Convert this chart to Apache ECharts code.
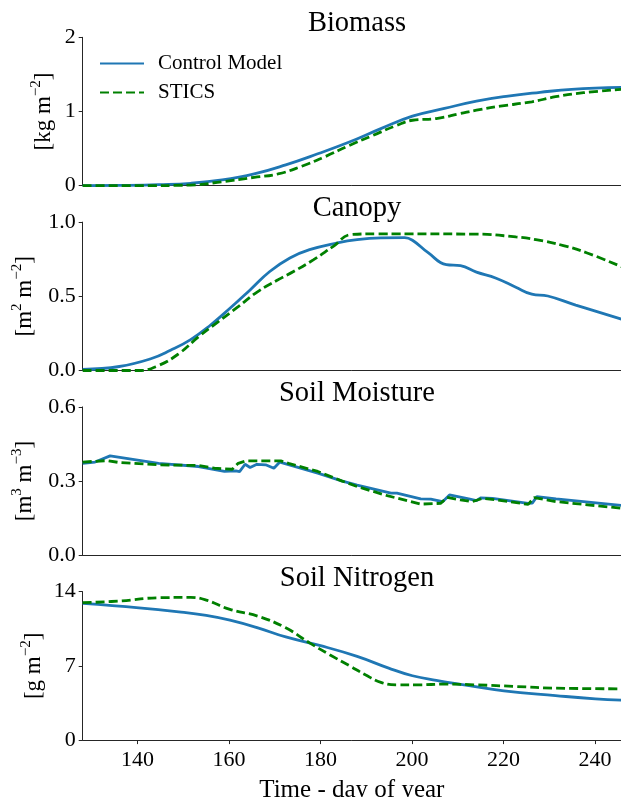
<!DOCTYPE html>
<html>
<head>
<meta charset="utf-8">
<script src="https://cdn.jsdelivr.net/npm/echarts@6/dist/echarts.min.js"></script>
<style>
  html, body { margin: 0; padding: 0; background: #fff; }
  #chart { width: 621px; height: 797px; }
</style>
</head>
<body>
<div id="chart"></div>
<script>
// day-of-year ticks shared by all panels
const xTicks = [140, 160, 180, 200, 220, 240];

// Biomass [kg m-2]
const biomassControl = [
  [128, 0], [138, 0.005], [144.6, 0.014], [151.6, 0.032], [158.5, 0.077], [165.5, 0.158],
  [172.4, 0.281], [179.4, 0.43], [186.3, 0.588], [193.2, 0.769], [200.1, 0.937],
  [207.1, 1.041], [214.1, 1.14], [221, 1.208], [228, 1.258], [234.9, 1.299], [246, 1.326]
];
const biomassStics = [
  [128, 0], [140, 0], [151.6, 0.009], [158.5, 0.054], [165.5, 0.113], [170.7, 0.158],
  [175.9, 0.262], [181.1, 0.394], [186.3, 0.543], [191.5, 0.679], [196.7, 0.814],
  [200.1, 0.882], [205.3, 0.905], [210.6, 0.973], [214.1, 1.018], [219.3, 1.072],
  [226.2, 1.131], [231.4, 1.199], [237.5, 1.253], [246, 1.299]
];

// Canopy [m2 m-2]
const canopyControl = [
  [128, 0.007], [136, 0.027], [142.9, 0.079], [147.2, 0.136], [151.6, 0.208], [155.9, 0.305],
  [160.2, 0.419], [164.6, 0.543], [168.9, 0.667], [173.3, 0.758], [177.6, 0.814],
  [183.7, 0.86], [188, 0.882], [193.2, 0.894], [198.4, 0.896], [200.1, 0.878],
  [203.6, 0.792], [207.5, 0.713], [210.6, 0.706], [214.1, 0.663], [218.4, 0.622],
  [222.7, 0.561], [226.2, 0.514], [229.7, 0.502], [235.8, 0.441], [246, 0.344]
];
const canopyStics = [
  [128, 0], [140.3, 0], [144.6, 0.034], [149, 0.113], [153.3, 0.226], [157.6, 0.328],
  [162, 0.43], [166.3, 0.532], [170.7, 0.611], [174.1, 0.667], [178.5, 0.747],
  [182.8, 0.837], [186.7, 0.916], [192.3, 0.921], [214.1, 0.919], [222.7, 0.9],
  [227.1, 0.882], [233.1, 0.842], [238.3, 0.792], [246, 0.697]
];

// Soil moisture [m3 m-3]
const moistureControl = [
  [128, 0.372], [130.7, 0.377], [134, 0.402], [144.6, 0.372], [153.3, 0.359], [159, 0.339],
  [161.5, 0.341], [162.3, 0.338], [163.5, 0.368], [164.6, 0.355], [166.1, 0.368],
  [168, 0.366], [169.8, 0.352], [171.1, 0.377], [179.4, 0.332], [184.6, 0.301],
  [188, 0.284], [195.4, 0.251], [196.7, 0.251], [201.9, 0.228], [204.1, 0.227],
  [206.7, 0.217], [208.2, 0.244], [212.4, 0.228], [214.1, 0.221], [215, 0.232],
  [217.6, 0.23], [225.4, 0.21], [226.3, 0.211], [227.3, 0.237], [231.5, 0.228], [246, 0.201]
];
const moistureStics = [
  [128, 0.377], [133.4, 0.383], [136, 0.375], [144.6, 0.366], [153.3, 0.363], [156.8, 0.352],
  [160.7, 0.348], [162, 0.372], [163.7, 0.382], [171.3, 0.382], [173, 0.372],
  [179.4, 0.339], [184.6, 0.301], [188, 0.278], [194.6, 0.241], [201.9, 0.207],
  [206.3, 0.21], [207.6, 0.234], [210.6, 0.224], [213.2, 0.217], [215.4, 0.23],
  [218.4, 0.224], [225.4, 0.206], [226.7, 0.233], [231.5, 0.217], [246, 0.19]
];

// Soil nitrogen [g m-2]
const nitrogenControl = [
  [128, 12.89], [140.3, 12.48], [149, 12.1], [155, 11.76], [160.2, 11.31], [166.3, 10.59],
  [172.4, 9.73], [180, 8.91], [188, 7.9], [194.9, 6.79], [200.1, 6.07], [205.3, 5.63],
  [211.4, 5.21], [220.1, 4.65], [231.4, 4.2], [240.1, 3.89], [246, 3.76]
];
const nitrogenStics = [
  [128, 12.96], [136, 13.12], [144.6, 13.43], [151.6, 13.46], [155, 13.21], [160.2, 12.33],
  [166.3, 11.69], [172.4, 10.59], [177.6, 9.17], [182, 8.06], [186.3, 7.02],
  [189.8, 6.16], [193.2, 5.44], [196.7, 5.21], [201.1, 5.21], [207.2, 5.28],
  [214.1, 5.21], [222.7, 5.06], [231.4, 4.9], [246, 4.84]
];

const panelTitles = ["Biomass", "Canopy", "Soil Moisture", "Soil Nitrogen"];
const yNames = ["[kg m{s|\u22122}]", "[m{s|2} m{s|\u22122}]", "[m{s|3} m{s|\u22123}]", "[g m{s|\u22122}]"];
const yMax = [2, 1, 0.6, 14];
const yStep = [1, 0.5, 0.3, 7];
const yDecimals = [0, 1, 1, 0];
const controlData = [biomassControl, canopyControl, moistureControl, nitrogenControl];
const sticsData = [biomassStics, canopyStics, moistureStics, nitrogenStics];

const FONT = "Liberation Serif";
const gridLeft = 82.7;
const gridTops = [37.3, 222.1, 406.9, 591.7];
const gridHeight = 148.4;
const nameGaps = [24, 43, 43, 34];
const axisColor = "#262626";

const chart = echarts.init(document.getElementById("chart"));

const grids = [], xAxes = [], yAxes = [], series = [], titles = [];
panelTitles.forEach((t, i) => {
  grids.push({
    left: gridLeft, right: 0, top: gridTops[i], height: gridHeight,
    outerBoundsMode: "none", containLabel: false
  });
  titles.push({
    text: t, left: 352, top: gridTops[i] - 33, textAlign: "center",
    textStyle: { fontFamily: FONT, fontSize: 28.5, fontWeight: "normal", color: "#000" }
  });
  const last = i === panelTitles.length - 1;
  xAxes.push({
    type: "value", gridIndex: i, min: 128, max: 245.7,
    splitLine: { show: false },
    axisLine: { lineStyle: { color: axisColor, width: 1 } },
    axisTick: { show: last, length: 4, lineStyle: { color: axisColor }, customValues: xTicks },
    axisLabel: {
      show: last, customValues: xTicks, margin: 9,
      fontFamily: FONT, fontSize: 22, color: "#000"
    },
    name: last ? "Time - day of year" : "",
    nameLocation: "middle", nameGap: 38, nameMoveOverlap: false,
    nameTextStyle: { fontFamily: FONT, fontSize: 25, color: "#000" }
  });
  yAxes.push({
    type: "value", gridIndex: i, min: 0, max: yMax[i], interval: yStep[i],
    splitLine: { show: false },
    axisLine: { show: true, lineStyle: { color: axisColor, width: 1 } },
    axisTick: { show: true, length: 4, lineStyle: { color: axisColor } },
    axisLabel: {
      margin: 7, fontFamily: FONT, fontSize: 22, color: "#000",
      formatter: v => v.toFixed(yDecimals[i])
    },
    name: yNames[i], nameLocation: "middle", nameGap: nameGaps[i], nameRotate: 90,
    nameMoveOverlap: false,
    nameTextStyle: {
      fontFamily: FONT, fontSize: 23, color: "#000", lineHeight: 30, verticalAlign: "bottom",
      rich: {
        s: { fontFamily: FONT, fontSize: 15, color: "#000", lineHeight: 30, verticalAlign: "top" }
      }
    }
  });
  series.push({
    name: "Control Model", type: "line", xAxisIndex: i, yAxisIndex: i,
    data: controlData[i], showSymbol: false, symbol: "none",
    smooth: i === 2 ? false : 0.45,
    lineStyle: { color: "#1f77b4", width: 2.8 }, itemStyle: { color: "#1f77b4" },
    z: 2
  });
  series.push({
    name: "STICS", type: "line", xAxisIndex: i, yAxisIndex: i,
    data: sticsData[i], showSymbol: false, symbol: "none",
    smooth: i === 2 ? false : 0.45,
    lineStyle: { color: "#008000", width: 2.8, type: [9, 4] }, itemStyle: { color: "#008000" },
    z: 3
  });
});

chart.setOption({
  animation: false,
  backgroundColor: "#fff",
  title: titles,
  legend: {
    data: ["Control Model", "STICS"],
    orient: "vertical", left: 99, top: 53, padding: 0,
    itemWidth: 44, itemHeight: 14, itemGap: 8,
    itemStyle: { color: "transparent", borderWidth: 0, opacity: 0 },
    textStyle: { fontFamily: FONT, fontSize: 21, color: "#000", padding: [0, 0, 0, 9] }
  },
  grid: grids,
  xAxis: xAxes,
  yAxis: yAxes,
  series
});
</script>
</body>
</html>
